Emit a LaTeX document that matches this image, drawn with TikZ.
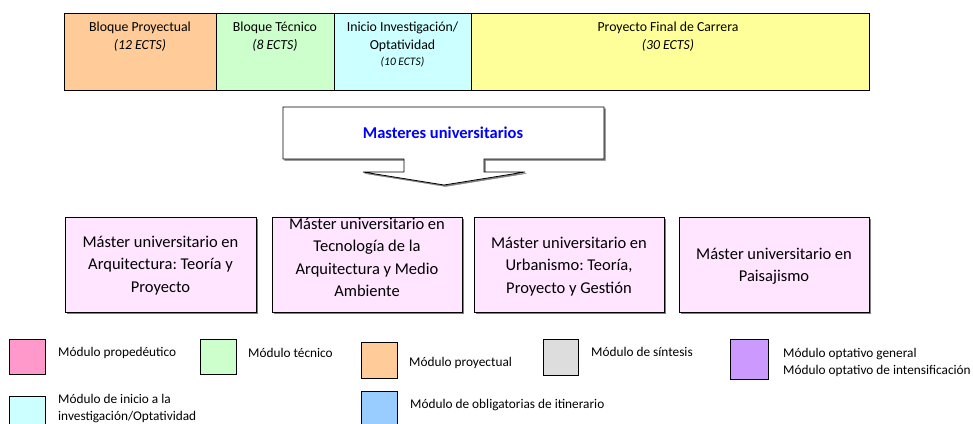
\documentclass[tikz,border=0pt]{standalone}
\usepackage{fontspec}
\setmainfont{Carlito}
\usepackage{xcolor}
\definecolor{naranja}{HTML}{FFCC99}
\definecolor{verde}{HTML}{CCFFCC}
\definecolor{celeste}{HTML}{CCFFFF}
\definecolor{amarillo}{HTML}{FFFF99}
\definecolor{rosa}{HTML}{FF99CC}
\definecolor{rosaclaro}{HTML}{FFE5FF}
\definecolor{gris}{HTML}{DDDDDD}
\definecolor{lila}{HTML}{CC99FF}
\definecolor{azul}{HTML}{99CCFF}
\definecolor{sombra}{HTML}{808080}
\frenchspacing

\begin{document}
\begin{tikzpicture}[x=1pt,y=-1pt,
  bloque/.style={font=\fontsize{13.8}{18}\selectfont,align=center,anchor=north,inner sep=0},
  master/.style={font=\fontsize{16.5}{22.5}\selectfont,align=center,inner sep=0},
  leyenda/.style={font=\fontsize{13.3}{17.5}\selectfont,align=left,anchor=west,inner sep=0},
  caja/.style={draw=black,line width=0.8pt}]
\useasboundingbox (0,0) rectangle (973,423);
% bloques del curso
\draw[caja,fill=naranja] (64,13) rectangle (216,90);
\draw[caja,fill=verde] (216,13) rectangle (334,90);
\draw[caja,fill=celeste] (334,13) rectangle (471,90);
\draw[caja,fill=amarillo] (471,13) rectangle (869,90);
\node[bloque] (bproy) at (140,21.5) {Bloque Proyectual\\\textit{(12 ECTS)}};
\node[bloque] (btec) at (275,21.5) {Bloque Técnico\\\textit{(8 ECTS)}};
\node[bloque] (binicio) at (402.5,21.5) {Inicio Investigación/\\Optatividad\\[-2pt]{\fontsize{11.5}{14}\selectfont\textit{(10 ECTS)}}};
\node[bloque] (bpfc) at (668,21.5) {Proyecto Final de Carrera\\\textit{(30 ECTS)}};
% flecha de masteres
\draw[sombra,fill=sombra] (284.5,108.5) -- (605.5,108.5) -- (605.5,160.5) -- (485.5,160.5) -- (485.5,173.5) -- (526.5,173.5) -- (445.5,186.5) -- (364.5,173.5) -- (405.5,173.5) -- (405.5,160.5) -- (284.5,160.5) -- cycle;
\draw[caja,fill=white] (283,107) -- (604,107) -- (604,159) -- (484,159) -- (484,172) -- (525,172) -- (444,185) -- (363,172) -- (404,172) -- (404,159) -- (283,159) -- cycle;
\node[font=\fontsize{16.5}{18}\selectfont\bfseries,text=blue,inner sep=0] (masteres) at (443,133) {Masteres universitarios};
% masteres
\foreach \xa/\xb in {65/256,272/462,474/664,679/869}{
  \fill[sombra] (\xa+1.5,218.5) rectangle (\xb+1.5,313.5);
  \draw[caja,fill=rosaclaro] (\xa,217) rectangle (\xb,312);
}
\node[master] (marq) at (160.5,265.5) {Máster universitario en\\Arquitectura: Teoría y\\Proyecto};
\node[master] (mtec) at (367,257.5) {Máster universitario en\\Tecnología de la\\Arquitectura y Medio\\Ambiente};
\node[master] (murb) at (569,266.5) {Máster universitario en\\Urbanismo: Teoría,\\Proyecto y Gestión};
\node[master] (mpai) at (774,266) {Máster universitario en\\Paisajismo};
% leyenda
\draw[caja,fill=rosa] (9,339) rectangle (45,374);
\draw[caja,fill=verde] (200,339) rectangle (236,374);
\draw[caja,fill=naranja] (361,342) rectangle (397,378);
\draw[caja,fill=gris] (543,339) rectangle (578,375);
\draw[caja,fill=lila] (730,339) rectangle (768,379);
\draw[caja,fill=celeste] (9,396) rectangle (45,430);
\draw[caja,fill=azul] (361,391) rectangle (397,430);
\node[leyenda] (lprop) at (58,353) {Módulo propedéutico};
\node[leyenda] (ltec) at (248,353) {Módulo técnico};
\node[leyenda] (lproy) at (409,363) {Módulo proyectual};
\node[leyenda] (lsint) at (591,352) {Módulo de síntesis};
\node[leyenda] (lopt) at (783,362.5) {Módulo optativo general\\Módulo optativo de intensificación};
\node[leyenda] (linicio) at (58,408.5) {Módulo de inicio a la\\investigación/Optatividad};
\node[leyenda] (lobl) at (410,405) {Módulo de obligatorias de itinerario};
\end{tikzpicture}
\end{document}
